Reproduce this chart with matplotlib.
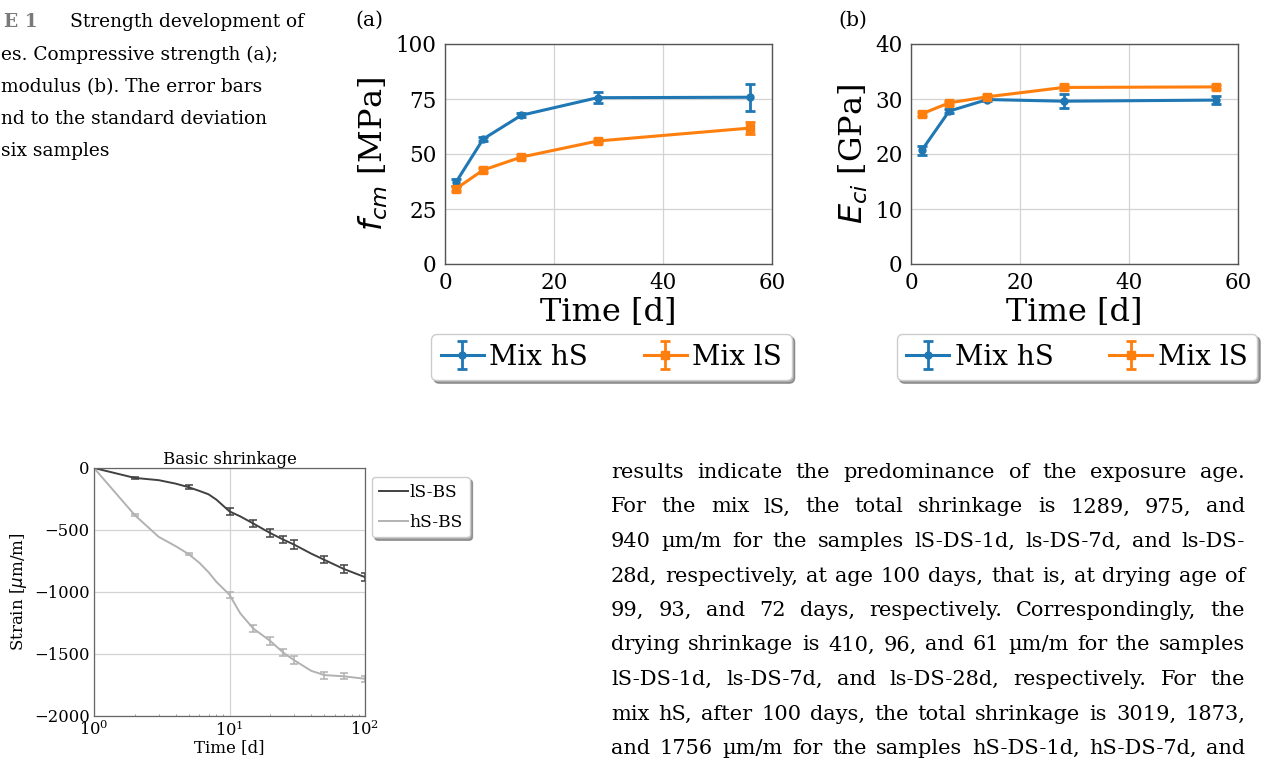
import matplotlib
matplotlib.use('Agg')
import matplotlib.pyplot as plt
import numpy as np

W, H = 1265, 758

# strength development, mixes hS / lS
age = [2, 7, 14, 28, 56]
fcm_hS = [37.1, 56.8, 67.6, 75.6, 75.8]
fcm_hS_sd = [1.5, 1.0, 1.0, 2.4, 6.1]
fcm_lS = [34.2, 42.7, 48.6, 55.9, 61.8]
fcm_lS_sd = [1.2, 1.0, 1.0, 1.0, 2.7]
Eci_hS = [20.7, 27.8, 29.9, 29.6, 29.8]
Eci_hS_sd = [0.8, 0.4, 0.3, 1.3, 0.7]
Eci_lS = [27.3, 29.3, 30.4, 32.1, 32.2]
Eci_lS_sd = [0.4, 0.4, 0.3, 0.4, 0.4]

# basic shrinkage
bs_days = [1, 2, 3, 4, 5, 6, 7, 8, 10, 12, 15, 20, 25, 30, 40, 50, 70, 100]
bs_lS = [0, -80, -98, -126, -155, -185, -212, -255, -350, -390, -448, -525,
         -578, -618, -690, -740, -815, -880]
bs_hS = [0, -380, -555, -630, -695, -765, -840, -918, -1022, -1172, -1295,
         -1395, -1490, -1550, -1635, -1670, -1680, -1700]
err_days = [2, 5, 10, 15, 20, 25, 30, 50, 70, 100]
err_lS = [10, 15, 25, 30, 30, 28, 35, 30, 30, 30]
err_hS = [10, 10, 25, 30, 30, 28, 30, 28, 25, 25]

caption = ["es. Compressive strength (a);",
           "modulus (b). The error bars",
           "nd to the standard deviation",
           "six samples"]
body = [
    "results indicate the predominance of the exposure age.",
    "For the mix lS, the total shrinkage is 1289, 975, and",
    "940 µm/m for the samples lS-DS-1d, ls-DS-7d, and ls-DS-",
    "28d, respectively, at age 100 days, that is, at drying age of",
    "99, 93, and 72 days, respectively. Correspondingly, the",
    "drying shrinkage is 410, 96, and 61 µm/m for the samples",
    "lS-DS-1d, ls-DS-7d, and ls-DS-28d, respectively. For the",
    "mix hS, after 100 days, the total shrinkage is 3019, 1873,",
    "and 1756 µm/m for the samples hS-DS-1d, hS-DS-7d, and",
]

plt.rcParams['font.family'] = 'DejaVu Serif'
plt.rcParams['mathtext.fontset'] = 'dejavusans'

fig = plt.figure(figsize=(W / 100, H / 100), dpi=100)


def px_axes(left, top, right, bottom):
    return fig.add_axes([left / W, 1 - bottom / H, (right - left) / W, (bottom - top) / H])


def style_top(ax):
    ax.grid(True, color='#d3d3d3', lw=0.9)
    ax.set_axisbelow(True)
    for s in ax.spines.values():
        s.set_color('#555555')
        s.set_linewidth(1.0)
    ax.tick_params(length=0, pad=6, labelsize=15.5)
    ax.set_xlim(0, 60)
    ax.set_xticks([0, 20, 40, 60])
    ax.set_xlabel('Time [d]', fontsize=23, labelpad=2)


def top_errorbars(ax, y1, e1, y2, e2):
    ax.errorbar(age, y1, yerr=e1, color='#1f77b4', marker='o', ms=5, lw=2.2,
                elinewidth=2, capsize=3.5, capthick=2, label='Mix hS')
    ax.errorbar(age, y2, yerr=e2, color='#ff7f0e', marker='s', ms=5.5, lw=2.2,
                elinewidth=2, capsize=3.5, capthick=2, label='Mix lS')


def top_legend(ax, cx):
    ax.legend(loc='upper center', bbox_to_anchor=(cx / W, 1 - 334 / H),
              bbox_transform=fig.transFigure, ncol=2, fontsize=20,
              handlelength=1.55, handletextpad=0.2, columnspacing=2.0,
              borderpad=0.35, borderaxespad=0, shadow=True, fancybox=True,
              framealpha=1, edgecolor='#cccccc')


# (a) compressive strength
ax_a = px_axes(445, 44, 772, 264)
top_errorbars(ax_a, fcm_hS, fcm_hS_sd, fcm_lS, fcm_lS_sd)
style_top(ax_a)
ax_a.set_ylim(0, 100)
ax_a.set_yticks([0, 25, 50, 75, 100])
ax_a.set_ylabel('$f_{cm}$ [MPa]', fontsize=23, labelpad=4)
top_legend(ax_a, 611.5)

# (b) modulus of elasticity
ax_b = px_axes(911, 44, 1238, 264)
top_errorbars(ax_b, Eci_hS, Eci_hS_sd, Eci_lS, Eci_lS_sd)
style_top(ax_b)
ax_b.set_ylim(0, 40)
ax_b.set_yticks([0, 10, 20, 30, 40])
ax_b.set_ylabel('$E_{ci}$ [GPa]', fontsize=23, labelpad=4)
top_legend(ax_b, 1077)

fig.text(355 / W, 1 - 20 / H, '(a)', fontsize=14.6, va='center')
fig.text(838 / W, 1 - 20 / H, '(b)', fontsize=14.6, va='center')

# basic shrinkage, log time axis
ax_c = px_axes(94, 468, 365, 716)
ax_c.plot(bs_days, bs_lS, color='#414141', lw=1.4, label='lS-BS')
ax_c.plot(bs_days, bs_hS, color='#b2b2b2', lw=1.4, label='hS-BS')
idx = [bs_days.index(d) for d in err_days]
ax_c.errorbar(err_days, np.array(bs_lS)[idx], yerr=err_lS, fmt='none',
              ecolor='#414141', elinewidth=1.1, capsize=2.8, capthick=1.1)
ax_c.errorbar(err_days, np.array(bs_hS)[idx], yerr=err_hS, fmt='none',
              ecolor='#b2b2b2', elinewidth=1.1, capsize=2.8, capthick=1.1)
ax_c.set_xscale('log')
ax_c.set_xlim(1, 100)
ax_c.set_ylim(-2000, 0)
ax_c.set_yticks([0, -500, -1000, -1500, -2000])
ax_c.grid(True, which='major', color='#d3d3d3', lw=0.9)
ax_c.set_axisbelow(True)
for s in ax_c.spines.values():
    s.set_color('#666666')
    s.set_linewidth(0.9)
ax_c.tick_params(which='major', length=0, pad=3, labelsize=11.8)
ax_c.tick_params(which='minor', length=1.5, direction='in', color='#888888')
ax_c.set_title('Basic shrinkage', fontsize=12, pad=3)
ax_c.set_xlabel('Time [d]', fontsize=12, labelpad=0)
ax_c.set_ylabel('Strain [$\\mu$m/m]', fontsize=12, labelpad=4)
ax_c.legend(loc='upper left', bbox_to_anchor=(372 / W, 1 - 477 / H),
            bbox_transform=fig.transFigure, fontsize=12.3, handlelength=1.7,
            handletextpad=0.1, borderpad=0.4, labelspacing=0.75,
            borderaxespad=0, shadow=True, fancybox=True, framealpha=1,
            edgecolor='#cccccc')

# page text: caption fragment and justified body paragraph
cf = dict(fontsize=13.4, va='baseline')
fig.text(38 / W, 1 - 27 / H, 'E 1', ha='right', color='#7a7a7a',
         fontweight='bold', **cf)
fig.text(70 / W, 1 - 27 / H, 'Strength development of', **cf)
for i, line in enumerate(caption):
    fig.text(1 / W, 1 - (60 + 32 * i) / H, line, **cf)

tf = dict(fontsize=15, va='baseline')
renderer = fig.canvas.get_renderer()
x0, x1 = 611, 1245
for i, line in enumerate(body):
    yb = 478 + 34.5 * i
    words = line.split(' ')
    texts = [fig.text(0, 1 - yb / H, w, **tf) for w in words]
    widths = [t.get_window_extent(renderer).width for t in texts]
    gap = (x1 - x0 - sum(widths)) / (len(words) - 1)
    x = x0
    for t, w in zip(texts, widths):
        t.set_x(x / W)
        x += w + gap

fig.savefig('out.png', dpi=100)
